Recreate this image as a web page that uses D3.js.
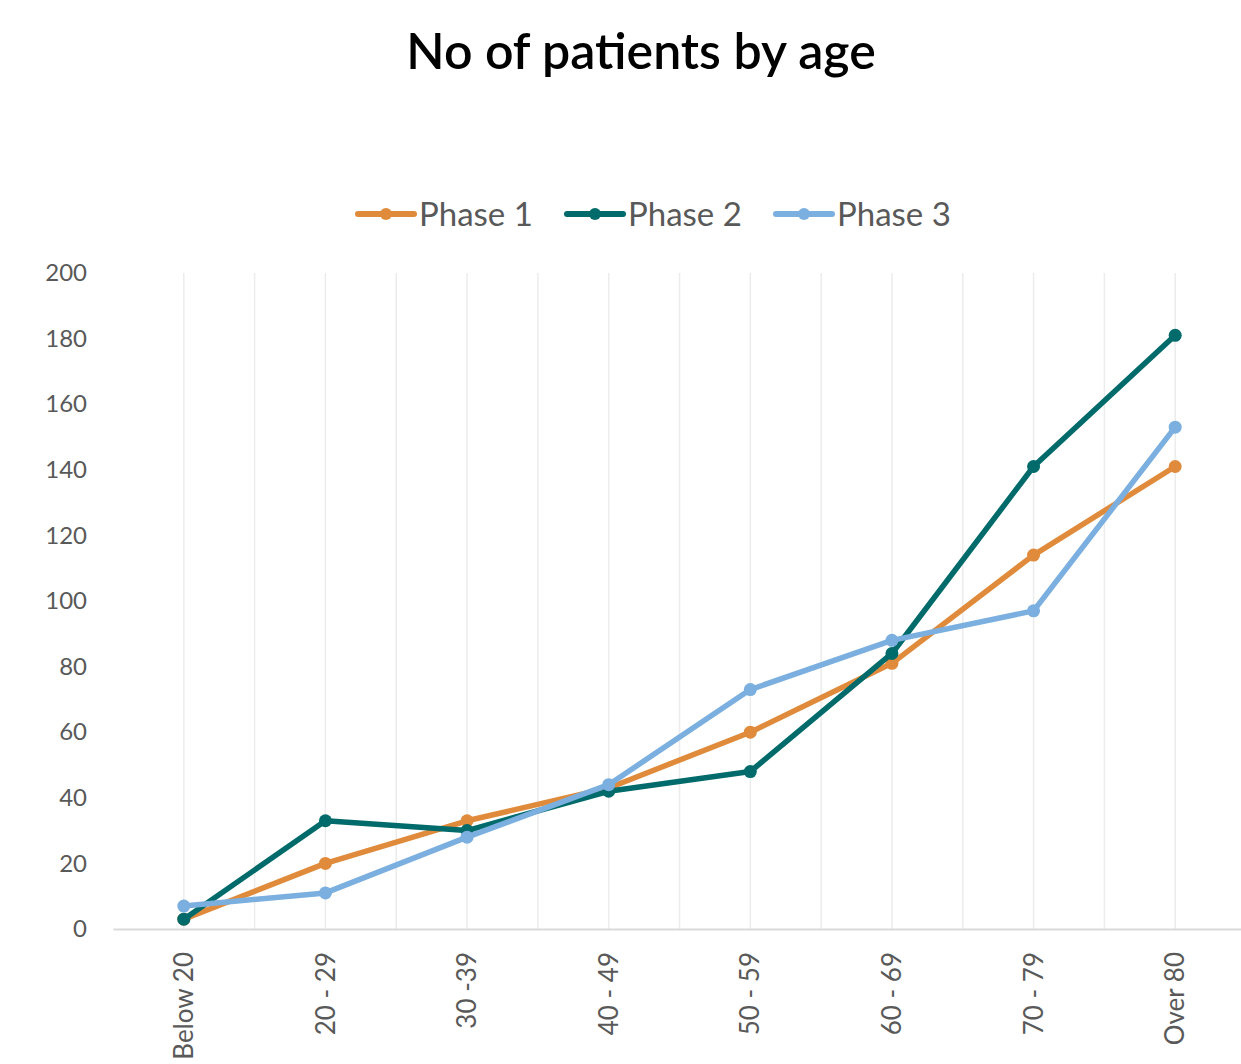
<!DOCTYPE html>
<html>
<head>
<meta charset="utf-8">
<script src="https://cdn.jsdelivr.net/npm/d3@7"></script>
<style>
body { margin: 0; background: #fff; }
svg { display: block; }
.tick-text { font-family: Lato, "Open Sans", sans-serif; fill: #595959; }
</style>
</head>
<body>
<div id="chart"></div>
<script>
// data
var ageGroups = ['Below 20', '20 - 29', '30 -39', '40 - 49', '50 - 59', '60 - 69', '70 - 79', 'Over 80'];
var phase1 = [3, 20, 33, 43, 60, 81, 114, 141];
var phase2 = [3, 33, 30, 42, 48, 84, 141, 181];
var phase3 = [7, 11, 28, 44, 73, 88, 97, 153];
var seriesNames = ['Phase 1', 'Phase 2', 'Phase 3'];
var yTicks = [0, 20, 40, 60, 80, 100, 120, 140, 160, 180, 200];

var colors = ['#e08b3b', '#016a6b', '#7bafdf'];

var svgWidth = 1241,
svgHeight = 1064;

var margin = { t: 273, r: -5, b: 135, l: 113 };

var width = svgWidth - margin.l - margin.r,
height = svgHeight - margin.t - margin.b;

var svg = d3.select('#chart')
	.append('svg')
	.attr('width', svgWidth)
	.attr('height', svgHeight);

// title
svg.append('text')
	.attr('x', 641)
	.attr('y', 69)
	.attr('text-anchor', 'middle')
	.style('font-family', 'Lato, sans-serif')
	.style('font-weight', '600')
	.style('font-size', '50px')
	.style('fill', '#000')
	.text('No of patients by age');

var chart = svg.append('g')
	.attr('transform', `translate(${margin.l},${margin.t})`);

var xScale = d3.scaleBand()
	.domain(ageGroups)
	.range([0, width]);

var yScale = d3.scaleLinear()
	.domain([0, 200])
	.range([height, 0]);

var xPos = d => xScale(d) + xScale.bandwidth() / 2;

// vertical gridlines at centers and boundaries
var gridX = [];
ageGroups.forEach(d => {
	gridX.push(xScale(d));
	gridX.push(xPos(d));
});

chart.append('g')
	.selectAll('line')
	.data(gridX.slice(1))
	.enter()
	.append('line')
	.attr('x1', d => d)
	.attr('x2', d => d)
	.attr('y1', 0)
	.attr('y2', height)
	.attr('stroke', '#ececec')
	.attr('stroke-width', 1.5);

// x axis
var xAxis = chart.append('g')
	.attr('transform', `translate(0,${height})`)
	.call(d3.axisBottom(xScale).tickSize(0).tickPadding(0));

xAxis.select('.domain')
	.attr('stroke', '#d9d9d9')
	.attr('stroke-width', 2);

xAxis.selectAll('.tick text')
	.attr('class', 'tick-text')
	.attr('transform', 'rotate(-90)')
	.attr('x', -23)
	.attr('y', 0)
	.attr('dy', '0.35em')
	.attr('text-anchor', 'end')
	.style('font-size', '26px');

// y axis
var yAxis = chart.append('g')
	.call(d3.axisLeft(yScale).tickValues(yTicks).tickSize(0).tickPadding(26));

yAxis.select('.domain').remove();
yAxis.selectAll('.tick text')
	.attr('class', 'tick-text')
	.style('font-size', '24px');

// lines
var allSeries = [phase1, phase2, phase3];

var line = d3.line()
	.x((d, i) => xPos(ageGroups[i]))
	.y(d => yScale(d));

allSeries.forEach((s, k) => {
	chart.append('path')
		.datum(s)
		.attr('d', line)
		.attr('fill', 'none')
		.attr('stroke', colors[k])
		.attr('stroke-width', 5.5)
		.attr('stroke-linejoin', 'round')
		.attr('stroke-linecap', 'round');

	chart.selectAll('.pt' + k)
		.data(s)
		.enter()
		.append('circle')
		.attr('class', 'pt' + k)
		.attr('cx', (d, i) => xPos(ageGroups[i]))
		.attr('cy', d => yScale(d))
		.attr('r', 6.5)
		.attr('fill', colors[k]);
});

// legend
var legend = svg.append('g')
	.attr('transform', 'translate(358,214)');

var legendItems = legend.selectAll('g')
	.data(seriesNames)
	.enter()
	.append('g')
	.attr('transform', (d, i) => `translate(${i * 209},0)`);

legendItems.append('line')
	.attr('x1', 0)
	.attr('x2', 56)
	.attr('stroke', (d, i) => colors[i])
	.attr('stroke-width', 6)
	.attr('stroke-linecap', 'round');

legendItems.append('circle')
	.attr('cx', 28)
	.attr('r', 6)
	.attr('fill', (d, i) => colors[i]);

legendItems.append('text')
	.attr('x', 61)
	.attr('y', 12)
	.style('font-family', 'Lato, sans-serif')
	.style('font-size', '33px')
	.style('fill', '#595959')
	.text(d => d);
</script>
</body>
</html>
